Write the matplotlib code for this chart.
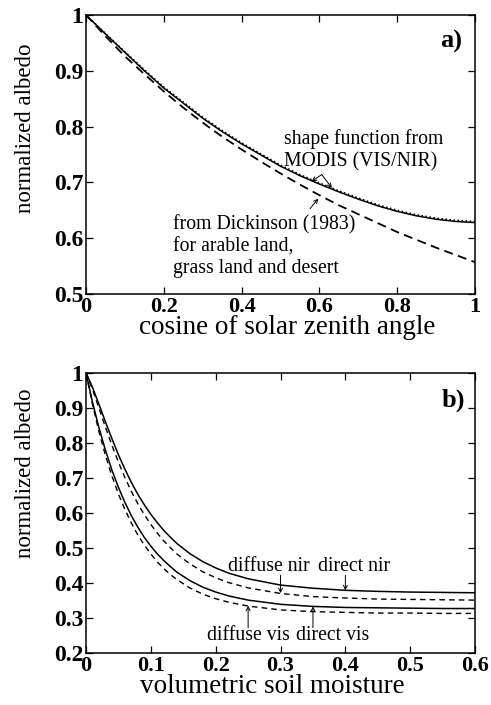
import matplotlib
matplotlib.use("Agg")
import matplotlib.pyplot as plt
import numpy as np

plt.rcParams['font.family'] = ['Liberation Serif', 'DejaVu Serif']

# (a) zenith-angle dependence
mu = [0.0, 0.05, 0.1, 0.15, 0.2, 0.25, 0.3, 0.35, 0.4, 0.45, 0.5,
      0.55, 0.6, 0.65, 0.7, 0.75, 0.8, 0.85, 0.9, 0.95, 1.0]
modis_vis = [1.0, 0.966, 0.933, 0.900, 0.869, 0.842, 0.815, 0.791, 0.769, 0.749, 0.729,
             0.712, 0.697, 0.683, 0.670, 0.658, 0.648, 0.640, 0.634, 0.630, 0.628]
modis_nir = [1.0, 0.967, 0.934, 0.902, 0.871, 0.844, 0.817, 0.793, 0.771, 0.751, 0.731,
             0.714, 0.699, 0.685, 0.672, 0.660, 0.650, 0.642, 0.636, 0.632, 0.630]
dickinson = [1.0, 0.962, 0.926, 0.894, 0.863, 0.834, 0.807, 0.782, 0.759, 0.737, 0.716,
             0.696, 0.677, 0.659, 0.643, 0.627, 0.611, 0.597, 0.583, 0.570, 0.557]

# (b) soil moisture dependence
theta = [0.0, 0.01, 0.02, 0.03, 0.04, 0.05, 0.06, 0.07, 0.08, 0.09, 0.10, 0.11, 0.12,
         0.13, 0.14, 0.16, 0.18, 0.20, 0.22, 0.25, 0.30, 0.35, 0.40, 0.45, 0.50, 0.55, 0.60]
direct_nir = [1.0, 0.959, 0.910, 0.860, 0.812, 0.766, 0.725, 0.687, 0.653, 0.623, 0.596,
              0.572, 0.550, 0.531, 0.513, 0.484, 0.461, 0.443, 0.428, 0.412, 0.394,
              0.385, 0.379, 0.376, 0.374, 0.373, 0.372]
diffuse_nir = [1.0, 0.953, 0.899, 0.845, 0.793, 0.745, 0.701, 0.661, 0.626, 0.595, 0.567,
               0.542, 0.520, 0.501, 0.483, 0.455, 0.432, 0.415, 0.401, 0.386, 0.370,
               0.361, 0.357, 0.354, 0.353, 0.352, 0.351]
direct_vis = [1.0, 0.916, 0.843, 0.779, 0.722, 0.673, 0.630, 0.592, 0.559, 0.530, 0.505,
              0.483, 0.464, 0.447, 0.431, 0.407, 0.388, 0.374, 0.363, 0.351, 0.339,
              0.333, 0.330, 0.329, 0.328, 0.327, 0.327]
diffuse_vis = [1.0, 0.910, 0.832, 0.764, 0.705, 0.654, 0.610, 0.571, 0.537, 0.508, 0.483,
               0.460, 0.441, 0.424, 0.410, 0.386, 0.368, 0.355, 0.345, 0.334, 0.323,
               0.318, 0.316, 0.314, 0.314, 0.313, 0.313]

fig = plt.figure(figsize=(4.91, 7.05), dpi=100)
ax1 = fig.add_axes([0.1752, 0.5830, 0.7923, 0.3957])
ax2 = fig.add_axes([0.1752, 0.0738, 0.7923, 0.3972])

def style(ax, xt, yt, xlim, ylim):
    ax.set_xlim(*xlim)
    ax.set_ylim(*ylim)
    ax.set_xticks(xt)
    ax.set_yticks(yt)
    ax.set_xticklabels([f"{v:g}" for v in xt], fontweight='bold', fontsize=16)
    ax.set_yticklabels([f"{v:g}" for v in yt], fontweight='bold', fontsize=17)
    ax.tick_params(direction='in', length=5, width=0.9, top=True, right=True, pad=2)
    for s in ax.spines.values():
        s.set_linewidth(1.1)

style(ax1, [0, 0.2, 0.4, 0.6, 0.8, 1], [0.5, 0.6, 0.7, 0.8, 0.9, 1], (0, 1), (0.5, 1))
ax1.plot(mu, modis_vis, color='black', lw=1.1)
ax1.plot(mu, modis_nir, color='black', lw=1.1, ls=':')
ax1.plot(mu, dickinson, color='black', lw=1.3, dashes=(5, 3))
ax1.set_xlabel("cosine of solar zenith angle", fontsize=19.5, labelpad=1)
ax1.xaxis.set_label_coords(0.517, -0.075)
ax1.set_ylabel("normalized albedo", fontsize=16.5)
ax1.yaxis.set_label_coords(-0.128, 0.595)
ax1.text(0.91, 0.941, "a)", fontsize=19, fontweight='bold')

ax1.text(0.509, 0.769, "shape function from", fontsize=14.2)
ax1.text(0.509, 0.728, "MODIS (VIS/NIR)", fontsize=14.2)
arr = dict(arrowstyle='->', lw=0.7, color='black', shrinkA=0, shrinkB=0,
           mutation_scale=7)
ax1.annotate("", xy=(0.580, 0.702), xytext=(0.606, 0.714), arrowprops=arr)
ax1.annotate("", xy=(0.632, 0.690), xytext=(0.606, 0.714), arrowprops=arr)
ax1.annotate("", xy=(0.597, 0.671), xytext=(0.576, 0.653), arrowprops=arr)
ax1.text(0.223, 0.615, "from Dickinson (1983)", fontsize=14.2)
ax1.text(0.223, 0.576, "for arable land,", fontsize=14.2)
ax1.text(0.223, 0.537, "grass land and desert", fontsize=14.2)

style(ax2, [0, 0.1, 0.2, 0.3, 0.4, 0.5, 0.6],
      [0.2, 0.3, 0.4, 0.5, 0.6, 0.7, 0.8, 0.9, 1], (0, 0.6), (0.2, 1))
ax2.plot(theta, direct_nir, color='black', lw=1.1)
ax2.plot(theta, diffuse_nir, color='black', lw=1.0, dashes=(4, 3))
ax2.plot(theta, direct_vis, color='black', lw=1.1)
ax2.plot(theta, diffuse_vis, color='black', lw=1.0, dashes=(4, 3))
ax2.set_xlabel("volumetric soil moisture", fontsize=19.5, labelpad=1)
ax2.xaxis.set_label_coords(0.478, -0.075)
ax2.set_ylabel("normalized albedo", fontsize=16.5)
ax2.yaxis.set_label_coords(-0.128, 0.643)
ax2.text(0.548, 0.903, "b)", fontsize=19, fontweight='bold')

ax2.text(0.219, 0.434, "diffuse nir", fontsize=14.2)
ax2.text(0.358, 0.434, "direct nir", fontsize=14.2)
ax2.text(0.186, 0.237, "diffuse vis", fontsize=14.2)
ax2.text(0.324, 0.237, "direct vis", fontsize=14.2)
ax2.annotate("", xy=(0.30, 0.371), xytext=(0.30, 0.422), arrowprops=arr)
ax2.annotate("", xy=(0.40, 0.379), xytext=(0.40, 0.422), arrowprops=arr)
ax2.annotate("", xy=(0.25, 0.335), xytext=(0.25, 0.272), arrowprops=arr)
ax2.annotate("", xy=(0.35, 0.333), xytext=(0.35, 0.272), arrowprops=arr)

fig.savefig("out.png", dpi=100)
